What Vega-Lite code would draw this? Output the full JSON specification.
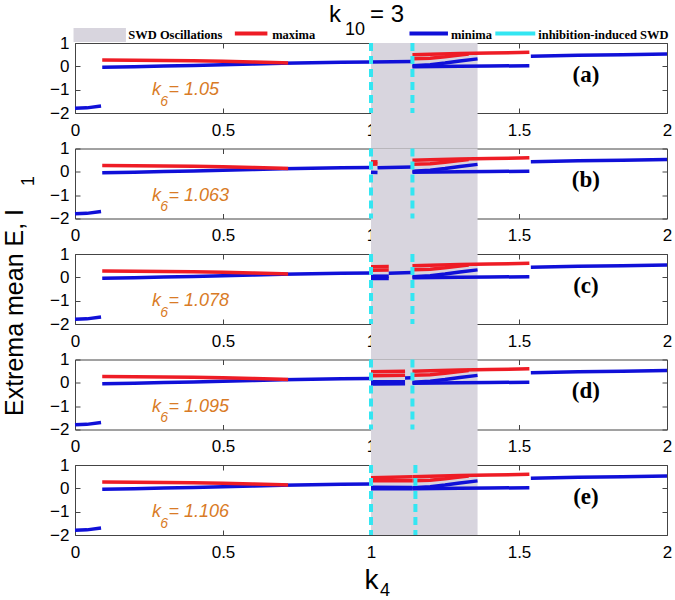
{
  "$schema": "https://vega.github.io/schema/vega-lite/v6.json",
  "padding": {"left": 2, "top": 3, "right": 0, "bottom": 0},
  "background": "white",
  "spacing": 35.5,
  "bounds": "flush",
  "datasets": {
    "curves": [
      {"p":"all","s":"minima","g":"m0","x":0,"y":-1.8},
      {"p":"all","s":"minima","g":"m0","x":0.04,"y":-1.78},
      {"p":"all","s":"minima","g":"m0","x":0.088,"y":-1.7},
      {"p":"all","s":"minima","g":"m1","x":0.092,"y":-0.04},
      {"p":"all","s":"minima","g":"m1","x":0.2,"y":-0.02},
      {"p":"all","s":"minima","g":"m1","x":0.3,"y":0.01},
      {"p":"all","s":"minima","g":"m1","x":0.4,"y":0.04},
      {"p":"all","s":"minima","g":"m1","x":0.5,"y":0.07},
      {"p":"all","s":"minima","g":"m1","x":0.6,"y":0.1},
      {"p":"all","s":"minima","g":"m1","x":0.7,"y":0.13},
      {"p":"all","s":"minima","g":"m1","x":0.8,"y":0.15},
      {"p":"all","s":"minima","g":"m1","x":0.9,"y":0.17},
      {"p":"all","s":"minima","g":"m1","x":1.0,"y":0.19},
      {"p":"all","s":"maxima","g":"M1","x":0.092,"y":0.27},
      {"p":"all","s":"maxima","g":"M1","x":0.2,"y":0.26},
      {"p":"all","s":"maxima","g":"M1","x":0.3,"y":0.25},
      {"p":"all","s":"maxima","g":"M1","x":0.4,"y":0.24},
      {"p":"all","s":"maxima","g":"M1","x":0.5,"y":0.22},
      {"p":"all","s":"maxima","g":"M1","x":0.6,"y":0.19},
      {"p":"all","s":"maxima","g":"M1","x":0.7,"y":0.15},
      {"p":"all","s":"maxima","g":"M1","x":0.72,"y":0.14},
      {"p":"all","s":"maxima","g":"M2","x":1.14,"y":0.5},
      {"p":"all","s":"maxima","g":"M2","x":1.2,"y":0.52},
      {"p":"all","s":"maxima","g":"M2","x":1.3,"y":0.55},
      {"p":"all","s":"maxima","g":"M2","x":1.4,"y":0.57},
      {"p":"all","s":"maxima","g":"M2","x":1.5,"y":0.59},
      {"p":"all","s":"maxima","g":"M2","x":1.535,"y":0.6},
      {"p":"all","s":"maxima","g":"M3","x":1.14,"y":0.33},
      {"p":"all","s":"maxima","g":"M3","x":1.2,"y":0.35},
      {"p":"all","s":"maxima","g":"M3","x":1.25,"y":0.41},
      {"p":"all","s":"maxima","g":"M3","x":1.3,"y":0.49},
      {"p":"all","s":"maxima","g":"M3","x":1.33,"y":0.53},
      {"p":"all","s":"minima","g":"m2","x":1.14,"y":-0.02},
      {"p":"all","s":"minima","g":"m2","x":1.3,"y":0.0},
      {"p":"all","s":"minima","g":"m2","x":1.4,"y":0.01},
      {"p":"all","s":"minima","g":"m2","x":1.535,"y":0.03},
      {"p":"all","s":"minima","g":"m3","x":1.14,"y":0.03},
      {"p":"all","s":"minima","g":"m3","x":1.2,"y":0.07},
      {"p":"all","s":"minima","g":"m3","x":1.25,"y":0.14},
      {"p":"all","s":"minima","g":"m3","x":1.3,"y":0.23},
      {"p":"all","s":"minima","g":"m3","x":1.36,"y":0.32},
      {"p":"all","s":"minima","g":"m4","x":1.54,"y":0.43},
      {"p":"all","s":"minima","g":"m4","x":1.7,"y":0.47},
      {"p":"all","s":"minima","g":"m4","x":1.85,"y":0.5},
      {"p":"all","s":"minima","g":"m4","x":2.0,"y":0.53},
      {"p":"a","s":"minima","g":"m5","x":1.0,"y":0.19},
      {"p":"a","s":"minima","g":"m5","x":1.14,"y":0.21},
      {"p":"b","s":"maxima","g":"M4","x":1.0,"y":0.43},
      {"p":"b","s":"maxima","g":"M4","x":1.022,"y":0.43},
      {"p":"b","s":"maxima","g":"M5","x":1.0,"y":0.33},
      {"p":"b","s":"maxima","g":"M5","x":1.022,"y":0.34},
      {"p":"b","s":"minima","g":"m6","x":1.0,"y":-0.02},
      {"p":"b","s":"minima","g":"m6","x":1.022,"y":-0.03},
      {"p":"b","s":"minima","g":"m5","x":1.022,"y":0.17},
      {"p":"b","s":"minima","g":"m5","x":1.14,"y":0.21},
      {"p":"c","s":"maxima","g":"M4","x":1.0,"y":0.45},
      {"p":"c","s":"maxima","g":"M4","x":1.06,"y":0.46},
      {"p":"c","s":"maxima","g":"M5","x":1.0,"y":0.3},
      {"p":"c","s":"maxima","g":"M5","x":1.06,"y":0.31},
      {"p":"c","s":"minima","g":"m6","x":1.0,"y":0.05},
      {"p":"c","s":"minima","g":"m6","x":1.06,"y":0.05},
      {"p":"c","s":"minima","g":"m7","x":1.0,"y":-0.05},
      {"p":"c","s":"minima","g":"m7","x":1.06,"y":-0.05},
      {"p":"c","s":"minima","g":"m5","x":1.06,"y":0.18},
      {"p":"c","s":"minima","g":"m5","x":1.14,"y":0.21},
      {"p":"d","s":"maxima","g":"M4","x":1.0,"y":0.48},
      {"p":"d","s":"maxima","g":"M4","x":1.115,"y":0.5},
      {"p":"d","s":"maxima","g":"M5","x":1.0,"y":0.3},
      {"p":"d","s":"maxima","g":"M5","x":1.115,"y":0.32},
      {"p":"d","s":"minima","g":"m6","x":1.0,"y":0.05},
      {"p":"d","s":"minima","g":"m6","x":1.115,"y":0.05},
      {"p":"d","s":"minima","g":"m7","x":1.0,"y":-0.05},
      {"p":"d","s":"minima","g":"m7","x":1.115,"y":-0.04},
      {"p":"d","s":"minima","g":"m5","x":1.115,"y":0.21},
      {"p":"d","s":"minima","g":"m5","x":1.14,"y":0.22},
      {"p":"e","s":"maxima","g":"M4","x":1.0,"y":0.45},
      {"p":"e","s":"maxima","g":"M4","x":1.14,"y":0.5},
      {"p":"e","s":"maxima","g":"M5","x":1.0,"y":0.33},
      {"p":"e","s":"maxima","g":"M5","x":1.14,"y":0.33},
      {"p":"e","s":"minima","g":"m6","x":1.0,"y":0.05},
      {"p":"e","s":"minima","g":"m6","x":1.14,"y":0.04},
      {"p":"e","s":"minima","g":"m7","x":1.0,"y":-0.02},
      {"p":"e","s":"minima","g":"m7","x":1.14,"y":-0.02}
    ],
    "shade": [
      {"p":"a","x":1.0,"x2":1.36,"y":-3.52,"y2":1},
      {"p":"b","x":1.0,"x2":1.36,"y":-3.52,"y2":1},
      {"p":"c","x":1.0,"x2":1.36,"y":-3.52,"y2":1},
      {"p":"d","x":1.0,"x2":1.36,"y":-3.52,"y2":1},
      {"p":"e","x":1.0,"x2":1.36,"y":-2,"y2":1}
    ],
    "cyan": [
      {"p":"all","x":1.0},
      {"p":"a","x":1.14},
      {"p":"b","x":1.14},
      {"p":"c","x":1.14},
      {"p":"d","x":1.14},
      {"p":"e","x":1.15}
    ],
    "notes": [
      {"p":"all","kind":"k6","x":0.26,"y":-1.23,"t":"k"},
      {"p":"all","kind":"k6sub","x":0.288,"y":-1.68,"t":"6"},
      {"p":"a","kind":"k6","x":0.316,"y":-1.23,"t":"= 1.05"},
      {"p":"b","kind":"k6","x":0.316,"y":-1.23,"t":"= 1.063"},
      {"p":"c","kind":"k6","x":0.316,"y":-1.23,"t":"= 1.078"},
      {"p":"d","kind":"k6","x":0.316,"y":-1.23,"t":"= 1.095"},
      {"p":"e","kind":"k6","x":0.316,"y":-1.23,"t":"= 1.106"},
      {"p":"a","kind":"letter","x":1.726,"y":-0.35,"t":"(a)"},
      {"p":"b","kind":"letter","x":1.726,"y":-0.35,"t":"(b)"},
      {"p":"c","kind":"letter","x":1.726,"y":-0.35,"t":"(c)"},
      {"p":"d","kind":"letter","x":1.726,"y":-0.35,"t":"(d)"},
      {"p":"e","kind":"letter","x":1.726,"y":-0.35,"t":"(e)"},
      {"p":"a","kind":"ttl","x":0.858,"y":1.9,"t":"k"},
      {"p":"a","kind":"ttl","x":0.997,"y":1.9,"t":"= 3"},
      {"p":"a","kind":"ttlsub","x":0.912,"y":1.343,"t":"10"},
      {"p":"a","kind":"leg","x":0.18,"y":1.35,"t":"SWD Oscillations"},
      {"p":"a","kind":"leg","x":0.666,"y":1.35,"t":"maxima"},
      {"p":"a","kind":"leg","x":1.27,"y":1.35,"t":"minima"},
      {"p":"a","kind":"leg","x":1.565,"y":1.35,"t":"inhibition-induced SWD"},
      {"p":"c","kind":"ysub","x":-0.1385,"y":4.13,"t":"1"},
      {"p":"e","kind":"xsub","x":1.03,"y":-4.6,"t":"4"}
    ],
    "legsw": [
      {"item":"maxima","x":0.54,"x2":0.65,"y":1.41},
      {"item":"minima","x":1.13,"x2":1.26,"y":1.41},
      {"item":"inhibition-induced SWD","x":1.42,"x2":1.555,"y":1.41}
    ],
    "legbox": [
      {"item":"SWD Oscillations","x":-0.005,"x2":0.172,"y":1.04,"y2":1.64}
    ]
  },
  "vconcat": [
    {
      "width": 592, "height": 70,
      "resolve": {"axis": {"x": "independent", "y": "independent"}},
      "layer": [
        {"data":{"name":"shade"},"transform":[{"filter":"datum.p == 'a'"}],
         "mark":{"type":"rect","color":"#D8D5DE"},
         "encoding":{
           "x":{"field":"x","type":"quantitative","scale":{"domain":[0,2],"nice":false},"axis":{"orient":"top","values":[0,0.5,1,1.5,2],"labels":false,"title":null}},
           "x2":{"field":"x2"},
           "y":{"field":"y","type":"quantitative","scale":{"domain":[-2,1],"nice":false},"axis":{"orient":"right","values":[-2,-1,0,1],"labels":false,"title":null}},
           "y2":{"field":"y2"}}},
        {"data":{"name":"curves"},"transform":[{"filter":"datum.p == 'a' || datum.p == 'all'"}],
         "mark":{"type":"line","strokeWidth":3.5},
         "encoding":{
           "x":{"field":"x","type":"quantitative","scale":{"domain":[0,2],"nice":false},"axis":{"values":[0,0.5,1,1.5,2],"format":"~g","title":null,"labelPadding":14}},
           "y":{"field":"y","type":"quantitative","scale":{"domain":[-2,1],"nice":false},"axis":{"values":[-2,-1,0,1],"format":"~g","title":null,"labelPadding":11}},
           "color":{"field":"s","type":"nominal","scale":{"domain":["SWD Oscillations","maxima","minima","inhibition-induced SWD"],"range":["#D8D5DE","#EE1C25","#1010D8","#33E6F2"]},"legend":null},
           "detail":{"field":"g","type":"nominal"}}},
        {"data":{"name":"cyan"},"transform":[{"filter":"datum.p == 'a' || datum.p == 'all'"}],
         "mark":{"type":"rule","color":"#33E6F2","strokeWidth":4,"strokeDash":[8,5]},
         "encoding":{"x":{"field":"x","type":"quantitative","scale":{"domain":[0,2],"nice":false},"axis":null}}},
        {"data":{"name":"notes"},"transform":[{"filter":"(datum.p == 'a' || datum.p == 'all') && datum.kind == 'k6'"}],
         "mark":{"type":"text","align":"left","baseline":"alphabetic","font":"Liberation Sans","fontStyle":"italic","fontSize":18,"color":"#D97B26"},
         "encoding":{"x":{"field":"x","type":"quantitative","scale":{"domain":[0,2],"nice":false},"axis":null},"y":{"field":"y","type":"quantitative","scale":{"domain":[-2,1],"nice":false},"axis":null},"text":{"field":"t"}}},
        {"data":{"name":"notes"},"transform":[{"filter":"(datum.p == 'a' || datum.p == 'all') && datum.kind == 'k6sub'"}],
         "mark":{"type":"text","align":"left","baseline":"alphabetic","font":"Liberation Sans","fontStyle":"italic","fontSize":14,"color":"#D97B26"},
         "encoding":{"x":{"field":"x","type":"quantitative","scale":{"domain":[0,2],"nice":false},"axis":null},"y":{"field":"y","type":"quantitative","scale":{"domain":[-2,1],"nice":false},"axis":null},"text":{"field":"t"}}},
        {"data":{"name":"notes"},"transform":[{"filter":"datum.p == 'a' && datum.kind == 'letter'"}],
         "mark":{"type":"text","align":"center","baseline":"middle","font":"Liberation Serif","fontWeight":"bold","fontSize":23,"color":"#000000"},
         "encoding":{"x":{"field":"x","type":"quantitative","scale":{"domain":[0,2],"nice":false},"axis":null},"y":{"field":"y","type":"quantitative","scale":{"domain":[-2,1],"nice":false},"axis":null},"text":{"field":"t"}}},
        {"data":{"name":"notes"},"transform":[{"filter":"datum.kind == 'ttl'"}],
         "mark":{"type":"text","align":"left","baseline":"alphabetic","font":"Liberation Sans","fontSize":24,"color":"#000000"},
         "encoding":{"x":{"field":"x","type":"quantitative","scale":{"domain":[0,2],"nice":false},"axis":null},"y":{"field":"y","type":"quantitative","scale":{"domain":[-2,1],"nice":false},"axis":null},"text":{"field":"t"}}},
        {"data":{"name":"notes"},"transform":[{"filter":"datum.kind == 'ttlsub'"}],
         "mark":{"type":"text","align":"left","baseline":"alphabetic","font":"Liberation Sans","fontSize":18,"color":"#000000"},
         "encoding":{"x":{"field":"x","type":"quantitative","scale":{"domain":[0,2],"nice":false},"axis":null},"y":{"field":"y","type":"quantitative","scale":{"domain":[-2,1],"nice":false},"axis":null},"text":{"field":"t"}}},
        {"data":{"name":"legbox"},
         "mark":{"type":"rect","color":"#D8D5DE"},
         "encoding":{"x":{"field":"x","type":"quantitative","scale":{"domain":[0,2],"nice":false},"axis":null},"x2":{"field":"x2"},"y":{"field":"y","type":"quantitative","scale":{"domain":[-2,1],"nice":false},"axis":null},"y2":{"field":"y2"}}},
        {"data":{"name":"legsw"},
         "mark":{"type":"rule","strokeWidth":4},
         "encoding":{"x":{"field":"x","type":"quantitative","scale":{"domain":[0,2],"nice":false},"axis":null},"x2":{"field":"x2"},"y":{"field":"y","type":"quantitative","scale":{"domain":[-2,1],"nice":false},"axis":null},
           "color":{"field":"item","type":"nominal","scale":{"domain":["SWD Oscillations","maxima","minima","inhibition-induced SWD"],"range":["#D8D5DE","#EE1C25","#1010D8","#33E6F2"]},"legend":null}}},
        {"data":{"name":"notes"},"transform":[{"filter":"datum.kind == 'leg'"}],
         "mark":{"type":"text","align":"left","baseline":"middle","font":"Liberation Serif","fontWeight":"bold","fontSize":12.5,"color":"#000000"},
         "encoding":{"x":{"field":"x","type":"quantitative","scale":{"domain":[0,2],"nice":false},"axis":null},"y":{"field":"y","type":"quantitative","scale":{"domain":[-2,1],"nice":false},"axis":null},"text":{"field":"t"}}}
      ]
    },
    {
      "width": 592, "height": 70,
      "resolve": {"axis": {"x": "independent", "y": "independent"}},
      "layer": [
        {"data":{"name":"shade"},"transform":[{"filter":"datum.p == 'b'"}],
         "mark":{"type":"rect","color":"#D8D5DE"},
         "encoding":{
           "x":{"field":"x","type":"quantitative","scale":{"domain":[0,2],"nice":false},"axis":{"orient":"top","values":[0,0.5,1,1.5,2],"labels":false,"title":null}},
           "x2":{"field":"x2"},
           "y":{"field":"y","type":"quantitative","scale":{"domain":[-2,1],"nice":false},"axis":{"orient":"right","values":[-2,-1,0,1],"labels":false,"title":null}},
           "y2":{"field":"y2"}}},
        {"data":{"name":"curves"},"transform":[{"filter":"datum.p == 'b' || datum.p == 'all'"}],
         "mark":{"type":"line","strokeWidth":3.5},
         "encoding":{
           "x":{"field":"x","type":"quantitative","scale":{"domain":[0,2],"nice":false},"axis":{"values":[0,0.5,1,1.5,2],"format":"~g","title":null,"labelPadding":14}},
           "y":{"field":"y","type":"quantitative","scale":{"domain":[-2,1],"nice":false},"axis":{"values":[-2,-1,0,1],"format":"~g","title":null,"labelPadding":11}},
           "color":{"field":"s","type":"nominal","scale":{"domain":["SWD Oscillations","maxima","minima","inhibition-induced SWD"],"range":["#D8D5DE","#EE1C25","#1010D8","#33E6F2"]},"legend":null},
           "detail":{"field":"g","type":"nominal"}}},
        {"data":{"name":"cyan"},"transform":[{"filter":"datum.p == 'b' || datum.p == 'all'"}],
         "mark":{"type":"rule","color":"#33E6F2","strokeWidth":4,"strokeDash":[8,5]},
         "encoding":{"x":{"field":"x","type":"quantitative","scale":{"domain":[0,2],"nice":false},"axis":null}}},
        {"data":{"name":"notes"},"transform":[{"filter":"(datum.p == 'b' || datum.p == 'all') && datum.kind == 'k6'"}],
         "mark":{"type":"text","align":"left","baseline":"alphabetic","font":"Liberation Sans","fontStyle":"italic","fontSize":18,"color":"#D97B26"},
         "encoding":{"x":{"field":"x","type":"quantitative","scale":{"domain":[0,2],"nice":false},"axis":null},"y":{"field":"y","type":"quantitative","scale":{"domain":[-2,1],"nice":false},"axis":null},"text":{"field":"t"}}},
        {"data":{"name":"notes"},"transform":[{"filter":"(datum.p == 'b' || datum.p == 'all') && datum.kind == 'k6sub'"}],
         "mark":{"type":"text","align":"left","baseline":"alphabetic","font":"Liberation Sans","fontStyle":"italic","fontSize":14,"color":"#D97B26"},
         "encoding":{"x":{"field":"x","type":"quantitative","scale":{"domain":[0,2],"nice":false},"axis":null},"y":{"field":"y","type":"quantitative","scale":{"domain":[-2,1],"nice":false},"axis":null},"text":{"field":"t"}}},
        {"data":{"name":"notes"},"transform":[{"filter":"datum.p == 'b' && datum.kind == 'letter'"}],
         "mark":{"type":"text","align":"center","baseline":"middle","font":"Liberation Serif","fontWeight":"bold","fontSize":23,"color":"#000000"},
         "encoding":{"x":{"field":"x","type":"quantitative","scale":{"domain":[0,2],"nice":false},"axis":null},"y":{"field":"y","type":"quantitative","scale":{"domain":[-2,1],"nice":false},"axis":null},"text":{"field":"t"}}}
      ]
    },
    {
      "width": 592, "height": 70,
      "resolve": {"axis": {"x": "independent", "y": "independent"}},
      "layer": [
        {"data":{"name":"shade"},"transform":[{"filter":"datum.p == 'c'"}],
         "mark":{"type":"rect","color":"#D8D5DE"},
         "encoding":{
           "x":{"field":"x","type":"quantitative","scale":{"domain":[0,2],"nice":false},"axis":{"orient":"top","values":[0,0.5,1,1.5,2],"labels":false,"title":null}},
           "x2":{"field":"x2"},
           "y":{"field":"y","type":"quantitative","scale":{"domain":[-2,1],"nice":false},"axis":{"orient":"right","values":[-2,-1,0,1],"labels":false,"title":null}},
           "y2":{"field":"y2"}}},
        {"data":{"name":"curves"},"transform":[{"filter":"datum.p == 'c' || datum.p == 'all'"}],
         "mark":{"type":"line","strokeWidth":3.5},
         "encoding":{
           "x":{"field":"x","type":"quantitative","scale":{"domain":[0,2],"nice":false},"axis":{"values":[0,0.5,1,1.5,2],"format":"~g","title":null,"labelPadding":14}},
           "y":{"field":"y","type":"quantitative","scale":{"domain":[-2,1],"nice":false},"axis":{"values":[-2,-1,0,1],"format":"~g","title":"Extrema mean E, I","titleFontSize":25,"titleX":-53,"titleY":58,"titleBaseline":"alphabetic","titleAlign":"center","labelPadding":11}},
           "color":{"field":"s","type":"nominal","scale":{"domain":["SWD Oscillations","maxima","minima","inhibition-induced SWD"],"range":["#D8D5DE","#EE1C25","#1010D8","#33E6F2"]},"legend":null},
           "detail":{"field":"g","type":"nominal"}}},
        {"data":{"name":"cyan"},"transform":[{"filter":"datum.p == 'c' || datum.p == 'all'"}],
         "mark":{"type":"rule","color":"#33E6F2","strokeWidth":4,"strokeDash":[8,5]},
         "encoding":{"x":{"field":"x","type":"quantitative","scale":{"domain":[0,2],"nice":false},"axis":null}}},
        {"data":{"name":"notes"},"transform":[{"filter":"(datum.p == 'c' || datum.p == 'all') && datum.kind == 'k6'"}],
         "mark":{"type":"text","align":"left","baseline":"alphabetic","font":"Liberation Sans","fontStyle":"italic","fontSize":18,"color":"#D97B26"},
         "encoding":{"x":{"field":"x","type":"quantitative","scale":{"domain":[0,2],"nice":false},"axis":null},"y":{"field":"y","type":"quantitative","scale":{"domain":[-2,1],"nice":false},"axis":null},"text":{"field":"t"}}},
        {"data":{"name":"notes"},"transform":[{"filter":"(datum.p == 'c' || datum.p == 'all') && datum.kind == 'k6sub'"}],
         "mark":{"type":"text","align":"left","baseline":"alphabetic","font":"Liberation Sans","fontStyle":"italic","fontSize":14,"color":"#D97B26"},
         "encoding":{"x":{"field":"x","type":"quantitative","scale":{"domain":[0,2],"nice":false},"axis":null},"y":{"field":"y","type":"quantitative","scale":{"domain":[-2,1],"nice":false},"axis":null},"text":{"field":"t"}}},
        {"data":{"name":"notes"},"transform":[{"filter":"datum.p == 'c' && datum.kind == 'letter'"}],
         "mark":{"type":"text","align":"center","baseline":"middle","font":"Liberation Serif","fontWeight":"bold","fontSize":23,"color":"#000000"},
         "encoding":{"x":{"field":"x","type":"quantitative","scale":{"domain":[0,2],"nice":false},"axis":null},"y":{"field":"y","type":"quantitative","scale":{"domain":[-2,1],"nice":false},"axis":null},"text":{"field":"t"}}},
        {"data":{"name":"notes"},"transform":[{"filter":"datum.kind == 'ysub'"}],
         "mark":{"type":"text","align":"center","baseline":"alphabetic","angle":270,"font":"Liberation Sans","fontSize":18,"color":"#000000"},
         "encoding":{"x":{"field":"x","type":"quantitative","scale":{"domain":[0,2],"nice":false},"axis":null},"y":{"field":"y","type":"quantitative","scale":{"domain":[-2,1],"nice":false},"axis":null},"text":{"field":"t"}}}
      ]
    },
    {
      "width": 592, "height": 70,
      "resolve": {"axis": {"x": "independent", "y": "independent"}},
      "layer": [
        {"data":{"name":"shade"},"transform":[{"filter":"datum.p == 'd'"}],
         "mark":{"type":"rect","color":"#D8D5DE"},
         "encoding":{
           "x":{"field":"x","type":"quantitative","scale":{"domain":[0,2],"nice":false},"axis":{"orient":"top","values":[0,0.5,1,1.5,2],"labels":false,"title":null}},
           "x2":{"field":"x2"},
           "y":{"field":"y","type":"quantitative","scale":{"domain":[-2,1],"nice":false},"axis":{"orient":"right","values":[-2,-1,0,1],"labels":false,"title":null}},
           "y2":{"field":"y2"}}},
        {"data":{"name":"curves"},"transform":[{"filter":"datum.p == 'd' || datum.p == 'all'"}],
         "mark":{"type":"line","strokeWidth":3.5},
         "encoding":{
           "x":{"field":"x","type":"quantitative","scale":{"domain":[0,2],"nice":false},"axis":{"values":[0,0.5,1,1.5,2],"format":"~g","title":null,"labelPadding":14}},
           "y":{"field":"y","type":"quantitative","scale":{"domain":[-2,1],"nice":false},"axis":{"values":[-2,-1,0,1],"format":"~g","title":null,"labelPadding":11}},
           "color":{"field":"s","type":"nominal","scale":{"domain":["SWD Oscillations","maxima","minima","inhibition-induced SWD"],"range":["#D8D5DE","#EE1C25","#1010D8","#33E6F2"]},"legend":null},
           "detail":{"field":"g","type":"nominal"}}},
        {"data":{"name":"cyan"},"transform":[{"filter":"datum.p == 'd' || datum.p == 'all'"}],
         "mark":{"type":"rule","color":"#33E6F2","strokeWidth":4,"strokeDash":[8,5]},
         "encoding":{"x":{"field":"x","type":"quantitative","scale":{"domain":[0,2],"nice":false},"axis":null}}},
        {"data":{"name":"notes"},"transform":[{"filter":"(datum.p == 'd' || datum.p == 'all') && datum.kind == 'k6'"}],
         "mark":{"type":"text","align":"left","baseline":"alphabetic","font":"Liberation Sans","fontStyle":"italic","fontSize":18,"color":"#D97B26"},
         "encoding":{"x":{"field":"x","type":"quantitative","scale":{"domain":[0,2],"nice":false},"axis":null},"y":{"field":"y","type":"quantitative","scale":{"domain":[-2,1],"nice":false},"axis":null},"text":{"field":"t"}}},
        {"data":{"name":"notes"},"transform":[{"filter":"(datum.p == 'd' || datum.p == 'all') && datum.kind == 'k6sub'"}],
         "mark":{"type":"text","align":"left","baseline":"alphabetic","font":"Liberation Sans","fontStyle":"italic","fontSize":14,"color":"#D97B26"},
         "encoding":{"x":{"field":"x","type":"quantitative","scale":{"domain":[0,2],"nice":false},"axis":null},"y":{"field":"y","type":"quantitative","scale":{"domain":[-2,1],"nice":false},"axis":null},"text":{"field":"t"}}},
        {"data":{"name":"notes"},"transform":[{"filter":"datum.p == 'd' && datum.kind == 'letter'"}],
         "mark":{"type":"text","align":"center","baseline":"middle","font":"Liberation Serif","fontWeight":"bold","fontSize":23,"color":"#000000"},
         "encoding":{"x":{"field":"x","type":"quantitative","scale":{"domain":[0,2],"nice":false},"axis":null},"y":{"field":"y","type":"quantitative","scale":{"domain":[-2,1],"nice":false},"axis":null},"text":{"field":"t"}}}
      ]
    },
    {
      "width": 592, "height": 70,
      "resolve": {"axis": {"x": "independent", "y": "independent"}},
      "layer": [
        {"data":{"name":"shade"},"transform":[{"filter":"datum.p == 'e'"}],
         "mark":{"type":"rect","color":"#D8D5DE"},
         "encoding":{
           "x":{"field":"x","type":"quantitative","scale":{"domain":[0,2],"nice":false},"axis":{"orient":"top","values":[0,0.5,1,1.5,2],"labels":false,"title":null}},
           "x2":{"field":"x2"},
           "y":{"field":"y","type":"quantitative","scale":{"domain":[-2,1],"nice":false},"axis":{"orient":"right","values":[-2,-1,0,1],"labels":false,"title":null}},
           "y2":{"field":"y2"}}},
        {"data":{"name":"curves"},"transform":[{"filter":"datum.p == 'e' || datum.p == 'all'"}],
         "mark":{"type":"line","strokeWidth":3.5},
         "encoding":{
           "x":{"field":"x","type":"quantitative","scale":{"domain":[0,2],"nice":false},"axis":{"values":[0,0.5,1,1.5,2],"format":"~g","title":"k","titleFontSize":28,"titleY":53,"titleBaseline":"alphabetic","labelPadding":14}},
           "y":{"field":"y","type":"quantitative","scale":{"domain":[-2,1],"nice":false},"axis":{"values":[-2,-1,0,1],"format":"~g","title":null,"labelPadding":11}},
           "color":{"field":"s","type":"nominal","scale":{"domain":["SWD Oscillations","maxima","minima","inhibition-induced SWD"],"range":["#D8D5DE","#EE1C25","#1010D8","#33E6F2"]},"legend":null},
           "detail":{"field":"g","type":"nominal"}}},
        {"data":{"name":"cyan"},"transform":[{"filter":"datum.p == 'e' || datum.p == 'all'"}],
         "mark":{"type":"rule","color":"#33E6F2","strokeWidth":4,"strokeDash":[8,5]},
         "encoding":{"x":{"field":"x","type":"quantitative","scale":{"domain":[0,2],"nice":false},"axis":null}}},
        {"data":{"name":"notes"},"transform":[{"filter":"(datum.p == 'e' || datum.p == 'all') && datum.kind == 'k6'"}],
         "mark":{"type":"text","align":"left","baseline":"alphabetic","font":"Liberation Sans","fontStyle":"italic","fontSize":18,"color":"#D97B26"},
         "encoding":{"x":{"field":"x","type":"quantitative","scale":{"domain":[0,2],"nice":false},"axis":null},"y":{"field":"y","type":"quantitative","scale":{"domain":[-2,1],"nice":false},"axis":null},"text":{"field":"t"}}},
        {"data":{"name":"notes"},"transform":[{"filter":"(datum.p == 'e' || datum.p == 'all') && datum.kind == 'k6sub'"}],
         "mark":{"type":"text","align":"left","baseline":"alphabetic","font":"Liberation Sans","fontStyle":"italic","fontSize":14,"color":"#D97B26"},
         "encoding":{"x":{"field":"x","type":"quantitative","scale":{"domain":[0,2],"nice":false},"axis":null},"y":{"field":"y","type":"quantitative","scale":{"domain":[-2,1],"nice":false},"axis":null},"text":{"field":"t"}}},
        {"data":{"name":"notes"},"transform":[{"filter":"datum.p == 'e' && datum.kind == 'letter'"}],
         "mark":{"type":"text","align":"center","baseline":"middle","font":"Liberation Serif","fontWeight":"bold","fontSize":23,"color":"#000000"},
         "encoding":{"x":{"field":"x","type":"quantitative","scale":{"domain":[0,2],"nice":false},"axis":null},"y":{"field":"y","type":"quantitative","scale":{"domain":[-2,1],"nice":false},"axis":null},"text":{"field":"t"}}},
        {"data":{"name":"notes"},"transform":[{"filter":"datum.kind == 'xsub'"}],
         "mark":{"type":"text","align":"left","baseline":"alphabetic","font":"Liberation Sans","fontSize":18,"color":"#000000"},
         "encoding":{"x":{"field":"x","type":"quantitative","scale":{"domain":[0,2],"nice":false},"axis":null},"y":{"field":"y","type":"quantitative","scale":{"domain":[-2,1],"nice":false},"axis":null},"text":{"field":"t"}}}
      ]
    }
  ],
  "config": {
    "view": {"stroke": null},
    "axis": {
      "grid": false,
      "tickSize": -5,
      "tickColor": "#444444",
      "domainColor": "#444444",
      "labelFont": "Liberation Sans",
      "labelFontSize": 17,
      "labelColor": "#000000",
      "labelFlush": false,
      "labelOverlap": false,
      "zindex": 1,
      "titleFont": "Liberation Sans",
      "titleFontWeight": "normal",
      "titleColor": "#000000"
    }
  }
}
